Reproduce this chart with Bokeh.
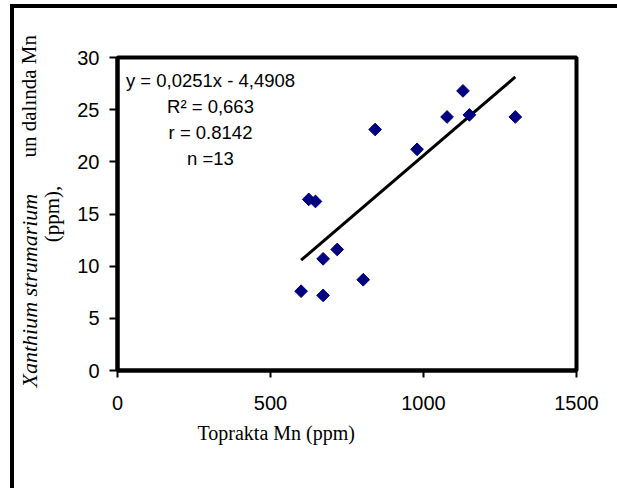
import math
from bokeh.plotting import figure
from bokeh.models import (Range1d, FixedTicker, Label, ColumnDataSource, Title, InlineStyleSheet)
from bokeh.embed import file_html
from bokeh.resources import INLINE

# ---- data ----
soil_mn = [600, 672, 672, 718, 803, 625, 647, 842, 979, 1077, 1129, 1150, 1300]
plant_mn = [7.6, 7.2, 10.7, 11.6, 8.7, 16.4, 16.2, 23.1, 21.2, 24.3, 26.8, 24.5, 24.3]
slope = 0.0251
intercept = -4.4908
x_ticks = [0, 500, 1000, 1500]
y_ticks = [0, 5, 10, 15, 20, 25, 30]
stats_lines = ["y = 0,0251x - 4,4908", "R\u00b2 = 0,663", "r = 0.8142", "n =13"]
x_title = "Toprakta Mn (ppm)"
y_title_italic = "Xanthium strumarium"
y_title_rest = "un dal\u0131nda Mn"
y_title_unit = "(ppm),"

# ---- layout (pixels) ----
W, H = 617, 488
FL, FR, FT, FB = 117, 576, 57, 370
XMAX, YMAX = 1500, 30
SERIF = "Liberation Serif"
SANS = "Liberation Sans"

def px2x(px):
    return (px - FL) / (FR - FL) * XMAX

def py2y(py):
    return (FB - py) / (FB - FT) * YMAX

p = figure(width=W, height=H, output_backend="svg", toolbar_location=None,
           x_range=Range1d(0, XMAX), y_range=Range1d(0, YMAX),
           min_border_left=FL, min_border_right=W - FR,
           min_border_top=FT, min_border_bottom=H - FB)
p.background_fill_color = "white"
p.border_fill_color = "white"
# outer frame of the figure (left and top edges only, as in the cropped original)
p.stylesheets = [InlineStyleSheet(css="""
:host { position: relative; overflow: hidden; }
:host::before {
  content: ""; position: absolute; left: 10px; top: 4px; width: 4px; height: 700px;
  background: #000; pointer-events: none; z-index: 10;
}
:host::after {
  content: ""; position: absolute; left: 10px; top: 4px; width: 700px; height: 4px;
  background: #000; pointer-events: none; z-index: 10;
}
""")]
p.outline_line_color = "black"
p.outline_line_width = 4
p.xgrid.visible = False
p.ygrid.visible = False

for ax, ticks, tout, stand in ((p.xaxis[0], x_ticks, 7, 18), (p.yaxis[0], y_ticks, 8, 10)):
    ax.ticker = FixedTicker(ticks=ticks)
    ax.minor_tick_line_color = None
    ax.major_tick_in = 0
    ax.major_tick_out = tout
    ax.major_tick_line_width = 2
    ax.major_tick_line_color = "black"
    ax.axis_line_width = 4
    ax.axis_line_color = "black"
    ax.major_label_text_font = SANS
    ax.major_label_text_font_size = "20px"
    ax.major_label_text_color = "black"
    ax.major_label_standoff = stand

yax = p.yaxis[0]
yax.axis_label = y_title_unit
yax.axis_label_text_font = SERIF
yax.axis_label_text_font_size = "21px"
yax.axis_label_text_font_style = "normal"
yax.axis_label_text_color = "black"
yax.axis_label_standoff = 10

src = ColumnDataSource(dict(x=soil_mn, y=plant_mn))
x0, x1 = min(soil_mn), max(soil_mn)
p.line([x0, x1], [slope * x0 + intercept, slope * x1 + intercept],
       line_color="black", line_width=3)
p.scatter("x", "y", source=src, marker="square", size=9, angle=math.pi / 4,
          fill_color="#000080", line_color="#000080")

for i, t in enumerate(stats_lines):
    p.add_layout(Label(x=px2x(210), y=py2y(80 + 26 * i), text=t,
                       text_align="center", text_baseline="middle",
                       text_font=SANS, text_font_size="18.5px",
                       text_color="black"))

# x axis title
p.add_layout(Title(text=x_title, align="left", offset=80, standoff=19, vertical_align="top",
                   text_font=SERIF, text_font_size="20px", text_font_style="normal",
                   text_color="black"), "below")

# left side: spacer, then the two-part outer y title line (zero-width panels)
p.add_layout(Title(text=" ", standoff=5, text_font=SANS, text_font_size="1px",
                   text_color="white"), "left")
ZW = -(2 + 23.8)
p.add_layout(Title(text=y_title_italic, align="left", offset=-17, standoff=ZW,
                   vertical_align="middle", text_font=SERIF, text_font_size="22px",
                   text_font_style="italic", text_color="black"), "left")
p.add_layout(Title(text=y_title_rest, align="left", offset=213, standoff=ZW,
                   vertical_align="middle", text_font=SERIF, text_font_size="21px",
                   text_font_style="normal", text_color="black"), "left")

open("out.html", "w").write(file_html(p, INLINE))
